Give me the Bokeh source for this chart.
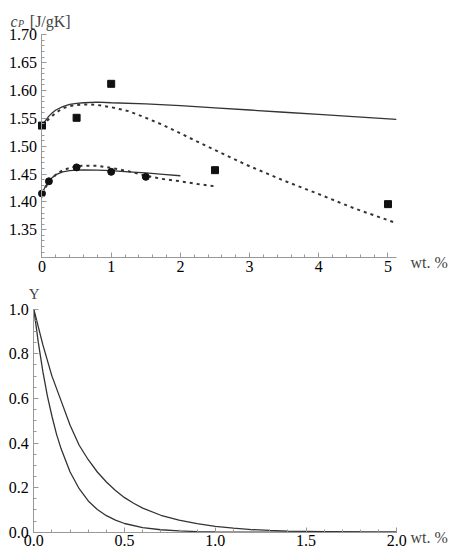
from bokeh.plotting import figure
from bokeh.layouts import column
from bokeh.models import FixedTicker, Label, Range1d, NumeralTickFormatter
from bokeh.embed import file_html
from bokeh.resources import INLINE

# ---- top panel data ----
sq_x = [0, 0.5, 1, 2.5, 5]
sq_y = [1.537, 1.551, 1.612, 1.457, 1.396]
ci_x = [0, 0.1, 0.5, 1, 1.5]
ci_y = [1.415, 1.437, 1.462, 1.454, 1.445]

up_solid_x = [0, 0.05, 0.1, 0.15, 0.2, 0.3, 0.4, 0.5, 0.6, 0.8, 1.0, 1.5, 2.0, 2.5, 3.0, 3.5, 4.0, 4.5, 5.12]
up_solid_y = [1.537, 1.546, 1.554, 1.560, 1.565, 1.571, 1.575, 1.577, 1.578, 1.579, 1.578, 1.576, 1.573,
              1.569, 1.565, 1.561, 1.557, 1.553, 1.548]
up_dash_x = [0, 0.05, 0.1, 0.2, 0.3, 0.4, 0.5, 0.6, 0.7, 0.8, 1.0, 1.25, 1.5, 1.75, 2.0, 2.5, 3.0, 3.5,
             4.0, 4.5, 5.12]
up_dash_y = [1.537, 1.543, 1.549, 1.560, 1.568, 1.572, 1.574, 1.575, 1.575, 1.574, 1.570, 1.563, 1.551,
             1.538, 1.523, 1.493, 1.464, 1.438, 1.414, 1.389, 1.362]
lo_solid_x = [0, 0.05, 0.1, 0.15, 0.2, 0.3, 0.4, 0.5, 0.6, 0.8, 1.0, 1.25, 1.5, 1.75, 2.0]
lo_solid_y = [1.415, 1.428, 1.437, 1.444, 1.449, 1.454, 1.456, 1.457, 1.4575, 1.457, 1.456, 1.454,
              1.452, 1.4495, 1.447]
lo_dash_x = [0, 0.05, 0.1, 0.2, 0.3, 0.4, 0.5, 0.6, 0.8, 1.0, 1.25, 1.5, 1.75, 2.0, 2.25, 2.5]
lo_dash_y = [1.415, 1.426, 1.435, 1.449, 1.457, 1.461, 1.464, 1.465, 1.465, 1.461, 1.455, 1.447,
             1.441, 1.437, 1.432, 1.428]

top_xticks = [0, 1, 2, 3, 4, 5]
top_yticks = [1.35, 1.40, 1.45, 1.50, 1.55, 1.60, 1.65, 1.70]
top_xbounds = (0, 5.12)
top_ybounds = (1.30, 1.70)

# ---- bottom panel data ----
outer_x = [0, 0.05, 0.1, 0.15, 0.2, 0.25, 0.3, 0.35, 0.4, 0.45, 0.5, 0.55, 0.6, 0.7, 0.8, 0.9, 1.0,
           1.1, 1.2, 1.3, 1.4, 1.5, 1.6, 1.8, 2.0]
outer_y = [1.0, 0.84, 0.70, 0.59, 0.48, 0.39, 0.325, 0.27, 0.225, 0.187, 0.155, 0.13, 0.108, 0.076,
           0.054, 0.038, 0.026, 0.018, 0.012, 0.008, 0.005, 0.004, 0.003, 0.001, 0.0]
inner_x = [0, 0.025, 0.05, 0.075, 0.1, 0.125, 0.15, 0.2, 0.25, 0.3, 0.35, 0.4, 0.45, 0.5, 0.6, 0.7,
           0.8, 0.9, 1.0, 1.2, 1.5, 2.0]
inner_y = [1.0, 0.85, 0.72, 0.61, 0.52, 0.44, 0.375, 0.27, 0.195, 0.14, 0.102, 0.074, 0.054, 0.039,
           0.021, 0.011, 0.006, 0.003, 0.0015, 0.0005, 0.0, 0.0]

bot_xticks = [0.0, 0.5, 1.0, 1.5, 2.0]
bot_yticks = [0.0, 0.2, 0.4, 0.6, 0.8, 1.0]
bot_xbounds = (0, 2.0)
bot_ybounds = (0, 1.0)

FONT = "Liberation Serif"
FS = "16px"
AXC = "#999999"
LC = "#333333"
MC = "#111111"


def make_fig(w, h, xr, yr):
    p = figure(width=w, height=h, x_range=Range1d(*xr), y_range=Range1d(*yr),
               output_backend="svg", toolbar_location=None, min_border=0)
    p.grid.visible = False
    p.outline_line_color = None
    p.background_fill_color = "white"
    p.border_fill_color = "white"
    for ax in (p.xaxis[0], p.yaxis[0]):
        ax.axis_line_color = AXC
        ax.major_tick_line_color = AXC
        ax.minor_tick_line_color = AXC
        ax.major_tick_in = 5
        ax.major_tick_out = 0
        ax.minor_tick_in = 3
        ax.minor_tick_out = 0
        ax.major_label_text_font = FONT
        ax.major_label_text_font_size = FS
        ax.major_label_text_color = "black"
    p.xaxis[0].major_label_standoff = 3
    p.yaxis[0].major_label_standoff = 5
    return p


# ---------------- top figure ----------------
p1 = make_fig(461, 278, (-0.5997, 6.0622), (1.2625, 1.7616))
p1.xaxis[0].fixed_location = top_ybounds[0]
p1.yaxis[0].fixed_location = top_xbounds[0]
p1.xaxis[0].bounds = top_xbounds
p1.yaxis[0].bounds = top_ybounds
p1.xaxis[0].ticker = FixedTicker(ticks=top_xticks,
                                 minor_ticks=[round(i * 0.2, 2) for i in range(0, 26)])
p1.yaxis[0].ticker = FixedTicker(ticks=top_yticks,
                                 minor_ticks=[round(1.30 + i * 0.01, 2) for i in range(0, 41)])
p1.yaxis[0].formatter = NumeralTickFormatter(format="0.00")

p1.line(up_solid_x, up_solid_y, line_color=LC, line_width=1.3)
p1.line(up_dash_x, up_dash_y, line_color=LC, line_width=2, line_dash="3 4")
p1.line(lo_solid_x, lo_solid_y, line_color=LC, line_width=1.3)
p1.line(lo_dash_x, lo_dash_y, line_color=LC, line_width=2, line_dash="3 4")
p1.scatter(sq_x, sq_y, marker="square", size=7, fill_color=MC, line_color=MC)
p1.scatter(ci_x, ci_y, marker="circle", size=7, fill_color=MC, line_color=MC)

p1.add_layout(Label(x=0, y=top_ybounds[1], x_offset=-31.5, y_offset=13.3, text="c",
                    text_font=FONT, text_font_style="italic", text_font_size="16px",
                    text_baseline="alphabetic"))
p1.add_layout(Label(x=0, y=top_ybounds[1], x_offset=-24, y_offset=11.6, text="P",
                    text_font=FONT, text_font_style="italic", text_font_size="10px",
                    text_baseline="alphabetic"))
p1.add_layout(Label(x=0, y=top_ybounds[1], x_offset=-12.2, y_offset=13.3, text="[J/gK]",
                    text_font=FONT, text_font_size="16px", text_baseline="alphabetic"))
p1.add_layout(Label(x=top_xbounds[1], y=top_ybounds[0], x_offset=14.2, y_offset=-4.6,
                    text="wt. %", text_font=FONT, text_font_size="16px",
                    text_baseline="alphabetic"))

# ---------------- bottom figure ----------------
p2 = make_fig(461, 281, (-0.1835, 2.3565), (-0.1224, 1.1377))
p2.xaxis[0].fixed_location = bot_ybounds[0]
p2.yaxis[0].fixed_location = bot_xbounds[0]
p2.xaxis[0].bounds = bot_xbounds
p2.yaxis[0].bounds = bot_ybounds
p2.xaxis[0].ticker = FixedTicker(ticks=bot_xticks,
                                 minor_ticks=[round(i * 0.1, 2) for i in range(0, 21)])
p2.yaxis[0].ticker = FixedTicker(ticks=bot_yticks,
                                 minor_ticks=[round(i * 0.05, 2) for i in range(0, 21)])
p2.xaxis[0].formatter = NumeralTickFormatter(format="0.0")
p2.yaxis[0].formatter = NumeralTickFormatter(format="0.0")

p2.line(outer_x, outer_y, line_color=LC, line_width=1.3)
p2.line(inner_x, inner_y, line_color=LC, line_width=1.3)

p2.add_layout(Label(x=0, y=bot_ybounds[1], x_offset=-5, y_offset=15.4, text="Y",
                    text_font=FONT, text_font_size="15px", text_baseline="alphabetic"))
p2.add_layout(Label(x=bot_xbounds[1], y=bot_ybounds[0], x_offset=13.7, y_offset=-5,
                    text="wt. %", text_font=FONT, text_font_size="16px",
                    text_baseline="alphabetic"))

layout = column(p1, p2, spacing=0)
open("out.html", "w").write(file_html(layout, INLINE))
